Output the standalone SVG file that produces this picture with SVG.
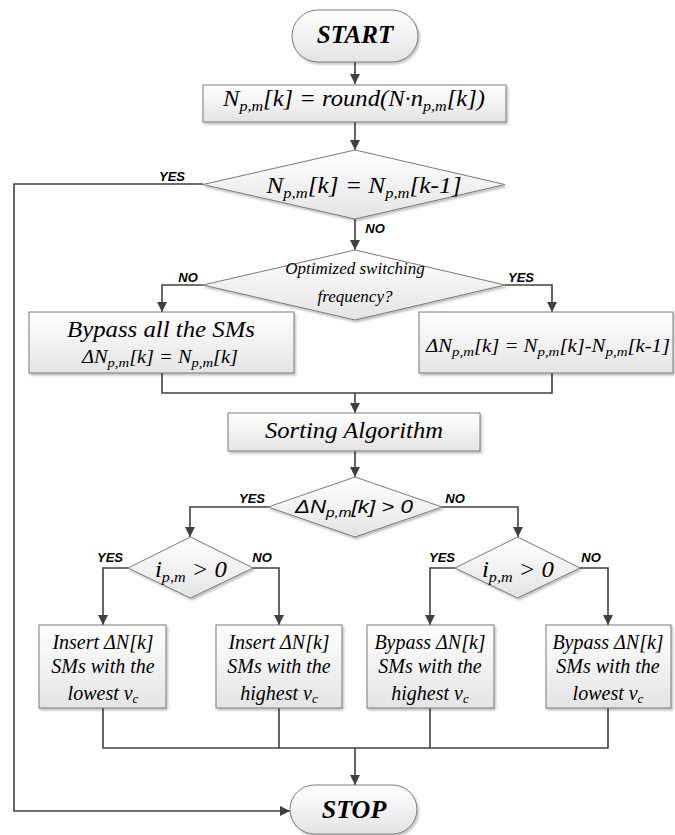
<svg xmlns="http://www.w3.org/2000/svg" width="675" height="835" viewBox="0 0 675 835">
<style>
.box{fill:url(#g);stroke:#7a7a7a;stroke-width:1;filter:url(#sh)}
.ln{fill:none;stroke:#404040;stroke-width:1.6}
.t{font-family:"Liberation Serif","Times New Roman",serif;font-style:italic;fill:#000}
.tb{font-family:"Liberation Serif","Times New Roman",serif;font-style:italic;font-weight:bold;fill:#000}
.lb{font-family:"Liberation Sans",Arial,sans-serif;font-style:italic;font-weight:bold;font-size:13px;fill:#000}
.s{font-family:"Liberation Sans",Arial,sans-serif;font-style:italic;fill:#000}
</style>
<defs>
<linearGradient id="g" x1="0" y1="0" x2="0" y2="1">
<stop offset="0" stop-color="#ffffff"/>
<stop offset="1" stop-color="#e4e4e4"/>
</linearGradient>
<filter id="sh" x="-10%" y="-10%" width="130%" height="140%">
<feDropShadow dx="1.5" dy="2" stdDeviation="1.2" flood-color="#000" flood-opacity="0.25"/>
</filter>
<marker id="a" viewBox="0 0 10 10" refX="10" refY="5" markerWidth="10" markerHeight="10" markerUnits="userSpaceOnUse" orient="auto">
<path d="M0,0 L10,5 L0,10 z" fill="#404040"/>
</marker>
</defs>

<g id="connectors">
<path class="ln" d="M355,62 V84" marker-end="url(#a)"/>
<path class="ln" d="M355,122 V150" marker-end="url(#a)"/>
<path class="ln" d="M203,184 H14 V811 H290" marker-end="url(#a)"/>
<path class="ln" d="M355,219 V250" marker-end="url(#a)"/>
<path class="ln" d="M203,285 H162 V312" marker-end="url(#a)"/>
<path class="ln" d="M505,285 H552 V312" marker-end="url(#a)"/>
<path class="ln" d="M162,373 V393 H552 V373"/>
<path class="ln" d="M355,393 V413" marker-end="url(#a)"/>
<path class="ln" d="M355,451 V477" marker-end="url(#a)"/>
<path class="ln" d="M268,507 H190 V537" marker-end="url(#a)"/>
<path class="ln" d="M442,507 H518 V537" marker-end="url(#a)"/>
<path class="ln" d="M128,568 H103 V625" marker-end="url(#a)"/>
<path class="ln" d="M253,568 H279 V625" marker-end="url(#a)"/>
<path class="ln" d="M455,568 H430 V625" marker-end="url(#a)"/>
<path class="ln" d="M580,568 H608 V625" marker-end="url(#a)"/>
<path class="ln" d="M103,708 V748 H608 V708"/>
<path class="ln" d="M279,708 V748"/>
<path class="ln" d="M430,708 V748"/>
<path class="ln" d="M355,748 V785" marker-end="url(#a)"/>
<text class="lb" x="172" y="181" text-anchor="middle">YES</text>
<text class="lb" x="375" y="233" text-anchor="middle">NO</text>
<text class="lb" x="188" y="282" text-anchor="middle">NO</text>
<text class="lb" x="521" y="282" text-anchor="middle">YES</text>
<text class="lb" x="252" y="503" text-anchor="middle">YES</text>
<text class="lb" x="455" y="503" text-anchor="middle">NO</text>
<text class="lb" x="110" y="562" text-anchor="middle">YES</text>
<text class="lb" x="262" y="562" text-anchor="middle">NO</text>
<text class="lb" x="442" y="562" text-anchor="middle">YES</text>
<text class="lb" x="591" y="562" text-anchor="middle">NO</text>
</g>

<g id="start">
<rect class="box" x="292" y="10" width="126" height="52" rx="26" ry="26"/>
<text class="tb" x="355" y="43" font-size="25" text-anchor="middle">START</text>
</g>

<g id="compute">
<rect class="box" x="203" y="85" width="303" height="37"/>
<text class="t" x="354" y="106" font-size="23" text-anchor="middle" textLength="262" lengthAdjust="spacingAndGlyphs">N<tspan font-size="15" dy="5">p,m</tspan><tspan dy="-5">[k] = round(N·n</tspan><tspan font-size="15" dy="5">p,m</tspan><tspan dy="-5">[k])</tspan></text>
</g>

<g id="check-change">
<polygon class="box" points="355,150 505,184.5 355,219 203,184.5"/>
<text class="t" x="364" y="193" font-size="23" text-anchor="middle" textLength="195" lengthAdjust="spacingAndGlyphs">N<tspan font-size="15" dy="5">p,m</tspan><tspan dy="-5">[k] =  N</tspan><tspan font-size="15" dy="5">p,m</tspan><tspan dy="-5">[k-1]</tspan></text>
</g>

<g id="optimized">
<polygon class="box" points="355,250 505,285 355,320 203,285"/>
<text class="t" x="355" y="274" font-size="17" text-anchor="middle">Optimized switching</text>
<text class="t" x="355" y="302" font-size="17" text-anchor="middle">frequency?</text>
</g>

<g id="bypass-all">
<rect class="box" x="29" y="312" width="265" height="61"/>
<text class="t" x="161" y="337" font-size="23" text-anchor="middle" textLength="188" lengthAdjust="spacingAndGlyphs">Bypass all the SMs</text>
<text class="t" x="160" y="363" font-size="18" text-anchor="middle" textLength="156" lengthAdjust="spacingAndGlyphs">ΔN<tspan font-size="13" dy="4">p,m</tspan><tspan dy="-4">[k] = N</tspan><tspan font-size="13" dy="4">p,m</tspan><tspan dy="-4">[k]</tspan></text>
</g>

<g id="delta">
<rect class="box" x="419" y="312" width="254" height="61"/>
<text class="t" x="548" y="352" font-size="18" text-anchor="middle" textLength="244" lengthAdjust="spacingAndGlyphs">ΔN<tspan font-size="13" dy="4">p,m</tspan><tspan dy="-4">[k] = N</tspan><tspan font-size="13" dy="4">p,m</tspan><tspan dy="-4">[k]-N</tspan><tspan font-size="13" dy="4">p,m</tspan><tspan dy="-4">[k-1]</tspan></text>
</g>

<g id="sorting">
<rect class="box" x="228" y="413" width="252" height="38"/>
<text class="t" x="354" y="438" font-size="23" text-anchor="middle" textLength="178" lengthAdjust="spacingAndGlyphs">Sorting Algorithm</text>
</g>

<g id="check-delta">
<polygon class="box" points="355,477 442,507 355,537 268,507"/>
<text class="s" x="354" y="513" font-size="19" text-anchor="middle" textLength="118" lengthAdjust="spacingAndGlyphs">ΔN<tspan font-size="13" dy="4">p,m</tspan><tspan dy="-4">[k] &gt; 0</tspan></text>
</g>

<g id="check-i-left">
<polygon class="box" points="190.5,537 253,568 190.5,598 128,568"/>
<text class="t" x="191" y="577" font-size="23" text-anchor="middle" textLength="72" lengthAdjust="spacingAndGlyphs">i<tspan font-size="15" dy="5">p,m</tspan><tspan dy="-5"> &gt; 0</tspan></text>
</g>

<g id="check-i-right">
<polygon class="box" points="517.5,537 580,568 517.5,598 455,568"/>
<text class="t" x="518" y="577" font-size="23" text-anchor="middle" textLength="72" lengthAdjust="spacingAndGlyphs">i<tspan font-size="15" dy="5">p,m</tspan><tspan dy="-5"> &gt; 0</tspan></text>
</g>

<g id="insert-lowest">
<rect class="box" x="39" y="625" width="127" height="83"/>
<text class="t" font-size="20" text-anchor="middle"><tspan x="103" y="649">Insert ΔN[k]</tspan><tspan x="103" y="673">SMs with the</tspan><tspan x="103" y="700">lowest v<tspan font-size="13" dy="3">c</tspan></tspan></text>
</g>

<g id="insert-highest">
<rect class="box" x="216" y="625" width="126" height="83"/>
<text class="t" font-size="20" text-anchor="middle"><tspan x="279" y="649">Insert ΔN[k]</tspan><tspan x="279" y="673">SMs with the</tspan><tspan x="279" y="700">highest v<tspan font-size="13" dy="3">c</tspan></tspan></text>
</g>

<g id="bypass-highest">
<rect class="box" x="367" y="625" width="127" height="83"/>
<text class="t" font-size="20" text-anchor="middle"><tspan x="430" y="649">Bypass ΔN[k]</tspan><tspan x="430" y="673">SMs with the</tspan><tspan x="430" y="700">highest v<tspan font-size="13" dy="3">c</tspan></tspan></text>
</g>

<g id="bypass-lowest">
<rect class="box" x="546" y="625" width="125" height="83"/>
<text class="t" font-size="20" text-anchor="middle"><tspan x="608" y="649">Bypass ΔN[k]</tspan><tspan x="608" y="673">SMs with the</tspan><tspan x="608" y="700">lowest v<tspan font-size="13" dy="3">c</tspan></tspan></text>
</g>

<g id="stop">
<rect class="box" x="290" y="785" width="127" height="49" rx="24.5" ry="24.5"/>
<text class="tb" x="354" y="818" font-size="26" text-anchor="middle">STOP</text>
</g>
</svg>
